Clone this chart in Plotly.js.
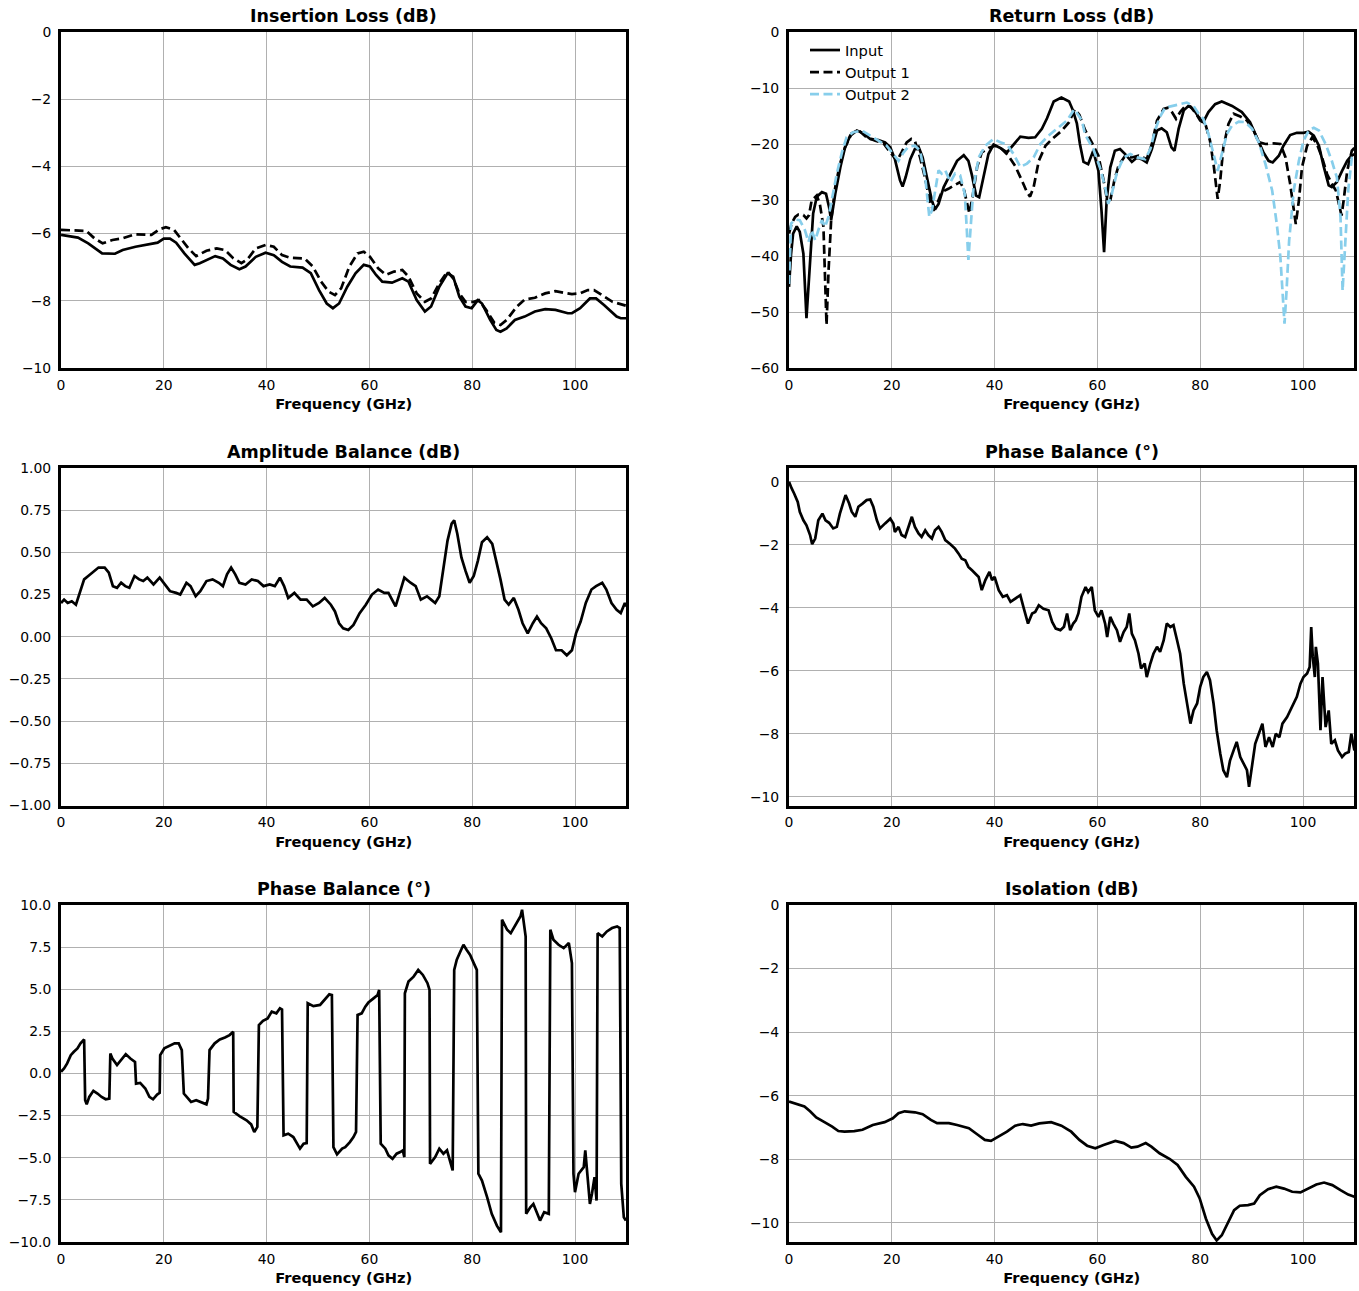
<!DOCTYPE html>
<html><head><meta charset="utf-8">
<script src="https://cdn.plot.ly/plotly-3.0.1.min.js"></script>
<style>html,body{margin:0;padding:0;background:#fff}#chart{width:1359px;height:1291px}</style>
</head><body><div id="chart"></div>
<script>
// ---------------- DATA (frequency GHz, value) ----------------
const freqTicks = [0, 20, 40, 60, 80, 100];
const ilTicks = [0, -2, -4, -6, -8, -10];
const rlTicks = [0, -10, -20, -30, -40, -50, -60];
const abTicks = [1, 0.75, 0.5, 0.25, 0, -0.25, -0.5, -0.75, -1];
const pbTicks = [0, -2, -4, -6, -8, -10];
const pb2Ticks = [10, 7.5, 5, 2.5, 0, -2.5, -5, -7.5, -10];
const isoTicks = [0, -2, -4, -6, -8, -10];

const ilOut1 = [[0,-6.04],[3.3,-6.12],[5.3,-6.29],[8,-6.59],[10.5,-6.6],[12,-6.49],[14.5,-6.39],[17.6,-6.29],[18.8,-6.27],[20,-6.15],[21.2,-6.15],[22.4,-6.27],[24,-6.59],[26,-6.93],[27,-6.88],[30,-6.67],[31.5,-6.74],[33,-6.93],[34.7,-7.06],[35.9,-6.98],[37.9,-6.69],[39.8,-6.57],[41.4,-6.64],[43,-6.84],[44.6,-6.98],[47,-7.01],[48.6,-7.18],[50.2,-7.68],[51.7,-8.08],[52.9,-8.22],[54.1,-8.08],[55.7,-7.58],[57.3,-7.18],[58.9,-6.93],[60.1,-6.98],[61.3,-7.23],[62.5,-7.43],[64.4,-7.46],[66.4,-7.33],[67.6,-7.43],[69.2,-7.98],[70.8,-8.32],[72,-8.17],[73.6,-7.58],[75.2,-7.18],[76.3,-7.28],[77.5,-7.88],[78.7,-8.17],[79.9,-8.22],[81.1,-7.98],[81.9,-8.08],[83.5,-8.57],[84.7,-8.87],[85.5,-8.92],[86.7,-8.82],[88.3,-8.57],[90.2,-8.47],[92.2,-8.32],[94.2,-8.25],[96.2,-8.27],[98.6,-8.37],[99.4,-8.37],[101,-8.22],[102.9,-7.93],[104.1,-7.93],[105.7,-8.13],[108.1,-8.47],[108.9,-8.52],[110,-8.52]];
const ilOut2 = [[0,-5.89],[4.9,-5.92],[6.5,-6.14],[8.1,-6.29],[10,-6.19],[12,-6.14],[14.4,-6.02],[16,-6.04],[17.6,-6.04],[19.2,-5.87],[20.4,-5.81],[22,-5.89],[23.2,-6.14],[24.8,-6.44],[26.3,-6.67],[28.3,-6.51],[30.3,-6.44],[31.9,-6.49],[33.5,-6.73],[35.1,-6.88],[36.3,-6.76],[37.9,-6.44],[39.8,-6.34],[41.4,-6.39],[43,-6.64],[44.6,-6.72],[47.4,-6.74],[49,-6.98],[50.6,-7.43],[52.1,-7.73],[53.3,-7.83],[54.5,-7.63],[56.1,-6.98],[57.7,-6.59],[58.9,-6.54],[60.1,-6.69],[61.7,-7.03],[63.2,-7.23],[64.8,-7.13],[66.4,-7.08],[67.6,-7.28],[69.2,-7.78],[70.8,-8.03],[72,-7.93],[73.6,-7.48],[75.2,-7.13],[76.3,-7.33],[77.5,-7.78],[78.7,-8.03],[80.3,-8.03],[81.3,-7.98],[82.7,-8.27],[84.3,-8.65],[85.5,-8.72],[86.7,-8.57],[88.7,-8.17],[90.2,-7.96],[92.2,-7.91],[94.2,-7.78],[96.2,-7.71],[97.8,-7.76],[99.4,-7.8],[101,-7.78],[102.5,-7.68],[103.7,-7.68],[105.3,-7.83],[107.3,-8.03],[110,-8.15]];

const rlInput = [[0,-45.5],[0.4,-39.6],[0.8,-36],[1.5,-34.7],[2.1,-35.7],[2.8,-39.6],[3.4,-51.1],[4.1,-42],[4.7,-32.4],[5.4,-29.4],[6.4,-28.6],[7.2,-28.9],[7.8,-31.3],[8.2,-33.6],[9,-28.9],[10,-24.1],[10.9,-20.6],[11.9,-18.5],[13.2,-17.6],[14.5,-18.1],[15.8,-19.1],[17.4,-19.3],[18.7,-19.7],[19.7,-20.6],[20.6,-22.7],[21.6,-26.5],[22.1,-27.6],[22.7,-25.9],[23.6,-22.7],[24.5,-20.9],[25.2,-20.5],[26,-22.4],[26.8,-25.9],[27.8,-30.1],[28.4,-31.7],[29.1,-30.7],[30.1,-27.7],[31.4,-25.3],[32.7,-23],[34,-22],[34.9,-23],[35.6,-25.6],[36.4,-29.2],[37,-29.5],[37.9,-25.9],[38.8,-21.8],[39.8,-20.1],[41.1,-20.7],[42.4,-21.5],[43.7,-20],[45,-18.7],[46.6,-18.9],[47.9,-18.8],[49.2,-17.3],[50.2,-15.4],[51.5,-12.4],[53,-11.7],[54.5,-12.4],[55.2,-13.9],[56,-16.3],[56.6,-20],[57.3,-23.2],[58.2,-23.6],[59.2,-21.2],[60.2,-24.8],[60.8,-31.9],[61.3,-39.3],[61.8,-30.1],[62.5,-24.2],[63.4,-21.2],[64.4,-20.9],[65.4,-21.8],[66.7,-23.2],[67.7,-22.4],[68.6,-22.7],[69.6,-23.3],[70.6,-20.9],[71.6,-17.6],[72.5,-17.2],[73.5,-17.9],[74.4,-20.6],[75,-21.2],[75.8,-17.3],[76.8,-14],[77.7,-13.2],[78.7,-13.75],[79.7,-15.2],[80.6,-16.1],[81.6,-14.3],[82.9,-12.9],[84.2,-12.4],[86.2,-13.2],[88.1,-14.3],[89.7,-16.1],[91,-18.8],[92.3,-21.5],[93.3,-23],[94.1,-23.3],[95.3,-22.1],[96.2,-20.3],[97.5,-18.4],[98.8,-18],[100.1,-18],[101.1,-17.8],[102.1,-18.5],[103.1,-20.3],[104,-23.9],[105,-27.4],[105.6,-27.7],[106.6,-26.8],[107.6,-24.8],[108.6,-23],[109.4,-22.1],[110,-21.8]];
const rlOut1 = [[0,-36],[0.5,-34.2],[1.2,-33],[1.8,-32.6],[2.8,-32.7],[3.4,-33.3],[3.9,-32.7],[4.4,-30.1],[5.4,-29.2],[6,-30.7],[6.7,-34.8],[7.1,-45.5],[7.3,-52.3],[7.7,-42.5],[8.2,-33.6],[9,-27.7],[9.9,-23.6],[10.9,-20.6],[12.2,-18.1],[13.5,-17.5],[15.1,-18.8],[16.8,-19.4],[18.4,-19.9],[19.7,-21.5],[21,-23],[21.9,-21.5],[22.9,-19.7],[23.8,-19.1],[24.5,-19.5],[25.5,-22.4],[26.5,-26.2],[27.5,-30.7],[28.1,-31.9],[28.8,-30.7],[29.7,-28.6],[31,-28],[32.3,-27.4],[33.3,-26.8],[34,-28],[34.6,-30.7],[35.1,-32.4],[35.7,-29.5],[36.6,-24.1],[37.5,-21.5],[38.8,-20.7],[40.1,-20.3],[41.4,-20.9],[42.7,-22.1],[44,-23.9],[45.3,-26.5],[46.3,-28.6],[46.9,-29.4],[47.6,-27.7],[48.6,-23],[49.9,-20.3],[51.2,-19.1],[53.1,-17.6],[54.5,-16.1],[55.6,-13.8],[56.5,-14.8],[57.6,-17.5],[58.9,-19.7],[60.2,-22.1],[61.2,-26.5],[61.8,-29.5],[62.5,-30.1],[63.3,-26.5],[64.1,-23.9],[65.4,-22.1],[66.7,-22.4],[68,-22.1],[69.6,-22.7],[70.6,-20],[71.6,-15.8],[72.9,-13.75],[73.8,-13.5],[74.5,-14.3],[75.3,-15.5],[76.1,-14.3],[77.1,-13.2],[78.1,-13.3],[79.2,-14.6],[80,-15.8],[81,-16.4],[81.9,-19.4],[82.6,-23.6],[83.1,-27.7],[83.4,-29.8],[83.9,-26.5],[84.5,-20.6],[85.5,-16.4],[86.5,-14.6],[87.8,-15.1],[89.1,-15.8],[90.4,-17.6],[91.4,-19.7],[92.7,-20],[94.3,-19.9],[95.6,-20],[96.6,-22.4],[97.5,-27.1],[98.2,-31.9],[98.6,-34.3],[99.2,-30.1],[99.8,-24.2],[100.8,-20.3],[101.8,-18.8],[102.7,-20],[103.7,-22.4],[104.7,-25.4],[105.6,-27.1],[106.4,-28.3],[107.1,-31.3],[107.5,-32.8],[107.9,-30.1],[108.6,-24.8],[109.5,-21.2],[110,-20.7]];
const rlOut2 = [[0,-45],[0.4,-34.2],[1.2,-33.5],[2.1,-33.6],[3.1,-35.4],[3.8,-37.5],[4.4,-35.4],[5.1,-37.2],[5.7,-35.4],[6.4,-33.6],[7,-34.8],[7.7,-33],[8.3,-30.1],[9.3,-25.3],[10.3,-21.5],[11.2,-18.8],[12.5,-17.9],[14.2,-17.6],[15.8,-18.5],[17.4,-19.4],[19,-20.3],[20.3,-21.8],[21.3,-23],[22.3,-21.5],[23.2,-20.5],[24.5,-20.3],[25.5,-21.2],[26.5,-25.9],[27.3,-33],[27.8,-31.9],[28.4,-28.3],[29.1,-24.7],[29.7,-25.3],[30.4,-24.7],[31.4,-26.8],[32.3,-25.3],[33.3,-25.6],[34.2,-28.9],[34.6,-35.4],[34.9,-40.7],[35.3,-35.4],[35.9,-27.7],[36.9,-22.4],[38.2,-20.3],[39.8,-19.1],[41.1,-19.7],[42.4,-20.1],[43.7,-21.8],[45,-24.1],[46.3,-23.5],[47.6,-22.4],[48.9,-20],[50.5,-18.5],[52.5,-17],[54.1,-15.8],[55.5,-13.8],[57,-15.8],[57.6,-18.3],[59.2,-20.9],[60.5,-24.2],[61.5,-27.7],[62.1,-30.7],[62.8,-28.9],[63.8,-25.1],[65.1,-22.4],[66.4,-21.8],[67.7,-22.4],[69.3,-22.7],[70.3,-20.9],[71.2,-17.6],[72.2,-15.1],[73.2,-13.5],[74.5,-13.2],[75.8,-12.9],[77.4,-12.6],[78.7,-13.2],[79.7,-14.6],[80.6,-15.5],[81.6,-18.2],[82.6,-21.8],[83.4,-24.8],[84.2,-21.8],[85.2,-18.2],[86.2,-16.7],[87.5,-16],[88.8,-16.1],[90.1,-17.3],[91.4,-19.7],[92.7,-23.6],[94,-28.3],[94.9,-34.3],[95.6,-40.2],[96,-47.4],[96.4,-52.1],[96.8,-46.2],[97.3,-37.3],[98.2,-28.3],[99.2,-23],[100.1,-19.4],[101.1,-17.6],[102.1,-17.1],[103.1,-17.6],[104.4,-20],[105.6,-23],[106.6,-26],[107.3,-33.1],[107.7,-46.2],[108.2,-37.3],[108.8,-28.3],[109.5,-22.4],[110,-21.8]];

const ampBal = [[0,0.2],[0.6,0.22],[1.3,0.2],[2.1,0.21],[2.9,0.19],[3.7,0.26],[4.5,0.34],[5.3,0.36],[6.1,0.38],[7.3,0.41],[8.5,0.41],[9.3,0.38],[10.1,0.3],[10.9,0.29],[11.7,0.32],[12.5,0.3],[13.3,0.29],[14.3,0.36],[15.2,0.34],[16,0.33],[16.8,0.35],[18,0.31],[19.2,0.35],[20.4,0.3],[21.2,0.27],[22.4,0.26],[23.2,0.25],[24.4,0.32],[25.2,0.3],[26.2,0.24],[27.1,0.27],[28.3,0.33],[29.5,0.34],[30.7,0.32],[31.5,0.3],[32.3,0.37],[33.1,0.41],[33.9,0.37],[34.7,0.32],[35.9,0.31],[37.1,0.34],[38.3,0.33],[39.4,0.3],[40.6,0.31],[41.6,0.3],[42.6,0.35],[43.4,0.3],[44.2,0.23],[45.4,0.26],[46.6,0.22],[47.8,0.22],[49,0.18],[50.2,0.2],[51.3,0.23],[52.5,0.19],[53.3,0.15],[54.1,0.08],[54.9,0.05],[55.9,0.04],[56.9,0.07],[58.1,0.14],[59.3,0.19],[60.5,0.25],[61.7,0.28],[62.9,0.26],[63.7,0.26],[64.4,0.22],[65.1,0.18],[65.9,0.26],[66.8,0.35],[68,0.32],[69,0.3],[70,0.22],[71.2,0.24],[72,0.22],[72.8,0.2],[73.6,0.24],[74.4,0.41],[75.2,0.57],[76,0.67],[76.5,0.69],[77.1,0.61],[77.9,0.47],[78.7,0.39],[79.5,0.32],[80.3,0.36],[81.1,0.45],[81.9,0.56],[82.9,0.59],[83.9,0.55],[84.7,0.45],[85.5,0.34],[86.3,0.22],[87.1,0.19],[88.1,0.23],[89,0.16],[89.8,0.08],[90.8,0.02],[91.8,0.08],[92.6,0.12],[93.4,0.08],[94.4,0.05],[95.4,-0.01],[96.3,-0.08],[97.4,-0.08],[98.4,-0.11],[99.4,-0.08],[100.2,0.02],[101.1,0.09],[102.1,0.2],[103.2,0.28],[104.1,0.3],[105.3,0.32],[106.1,0.28],[107.1,0.2],[108.1,0.16],[108.9,0.14],[109.7,0.2],[110,0.18]];

const phaseBalA = [[0,0],[0.2,-0.1],[0.5,-0.2],[1,-0.37],[1.7,-0.64],[2.1,-0.95],[2.8,-1.22],[3.4,-1.38],[4.1,-1.69],[4.5,-1.98],[5.1,-1.8],[5.7,-1.22],[6.5,-1.01],[7.1,-1.22],[7.8,-1.3],[8.6,-1.48],[9.3,-1.43],[9.9,-1.01],[10.6,-0.64],[11,-0.42],[11.7,-0.69],[12.2,-0.95],[12.9,-1.11],[13.5,-0.79],[14.3,-0.69],[15.1,-0.58],[15.8,-0.56],[16.4,-0.79],[17.1,-1.22],[17.7,-1.48],[18.7,-1.32],[19.7,-1.17],[20.3,-1.32],[20.6,-1.59],[21.3,-1.43],[21.9,-1.69],[22.6,-1.75],[23.4,-1.38],[23.9,-1.11],[24.5,-1.43],[25.2,-1.64],[25.8,-1.75],[26.5,-1.54],[27.1,-1.69],[27.8,-1.8],[28.4,-1.54],[29.1,-1.43],[29.7,-1.59],[30.4,-1.85],[31.4,-1.98],[32.3,-2.12],[33,-2.28],[33.6,-2.44],[34.3,-2.49],[34.9,-2.7],[35.6,-2.81],[36.2,-2.91],[36.9,-3.02],[37.5,-3.44],[38.2,-3.12],[39,-2.86],[39.5,-3.12],[40,-3.02],[40.8,-3.44],[41.6,-3.65],[42.4,-3.6],[43.1,-3.81],[44,-3.71],[45,-3.6],[45.6,-3.97],[46.5,-4.5],[47.3,-4.18],[47.9,-4.13],[48.6,-3.92],[49.5,-4.03],[50.5,-4.08],[51.2,-4.45],[51.9,-4.66],[52.8,-4.71],[53.5,-4.6],[54.1,-4.18],[54.7,-4.71],[55.3,-4.5],[55.8,-4.4],[56.3,-4.18],[56.9,-3.65],[57.7,-3.34],[58.2,-3.5],[58.9,-3.34],[59.5,-4.08],[60.2,-4.29],[60.8,-4.08],[61.5,-4.5],[61.9,-4.93],[62.5,-4.29],[63.1,-4.5],[63.8,-4.71],[64.4,-5.08],[65.1,-4.77],[65.7,-4.61],[66.2,-4.18],[66.7,-4.82],[67.3,-5.03],[68,-5.46],[68.5,-5.93],[69.2,-5.77],[69.6,-6.2],[70.3,-5.77],[70.9,-5.46],[71.6,-5.24],[72.2,-5.4],[72.9,-5.03],[73.5,-4.5],[74.2,-4.61],[74.8,-4.55],[75.5,-5.03],[76.1,-5.46],[76.8,-6.41],[77.4,-7.04],[78.1,-7.68],[78.7,-7.26],[79.4,-7.04],[80,-6.51],[80.6,-6.2],[81.3,-6.04],[81.9,-6.3],[82.6,-7.04],[83.2,-7.89],[83.9,-8.63],[84.5,-9.16],[85.2,-9.38],[85.8,-8.85],[86.5,-8.53],[87.1,-8.26],[87.8,-8.74],[88.4,-8.95],[89.1,-9.16],[89.5,-9.69],[90.1,-8.95],[90.7,-8.32],[91.4,-8],[92.1,-7.68],[92.7,-8.42],[93.4,-8.11],[94.1,-8.42],[94.7,-8],[95.4,-8.11],[96,-7.68],[96.9,-7.47],[97.5,-7.26],[98.2,-7.04],[98.8,-6.83],[99.5,-6.41],[100.1,-6.2],[100.8,-6.09],[101.3,-5.88],[101.6,-4.61],[101.9,-5.56],[102.3,-6.2],[102.5,-5.24],[102.9,-5.77],[103.4,-7.89],[103.8,-6.2],[104.4,-7.79],[105,-7.26],[105.5,-8.32],[106.2,-8.21],[106.8,-8.53],[107.6,-8.74],[108.2,-8.63],[108.9,-8.58],[109.4,-8],[110,-8.53]];

const phaseBalB = [[0,0.1],[0.6,0.3],[1.2,0.6],[1.9,1.09],[2.5,1.29],[3.2,1.49],[3.8,1.79],[4.5,2.02],[4.7,-1.59],[5,-1.83],[5.5,-1.39],[6.3,-1.03],[7.1,-1.19],[7.9,-1.39],[8.7,-1.53],[9.4,-1.49],[9.6,1.19],[10,0.89],[10.9,0.5],[11.7,0.79],[12.6,1.15],[13.5,0.89],[14.4,0.69],[14.6,-0.6],[15.4,-0.56],[16.4,-0.89],[17.2,-1.39],[17.9,-1.53],[18.7,-1.25],[19.2,-1.15],[19.3,1.09],[20.1,1.49],[21.1,1.63],[22.1,1.79],[22.9,1.79],[23.5,1.39],[23.9,-1.19],[24.7,-1.49],[25.3,-1.69],[26.3,-1.59],[27.3,-1.69],[28.3,-1.83],[28.6,-1.49],[28.9,1.39],[29.9,1.79],[30.9,2.02],[31.9,2.14],[32.8,2.28],[33.5,2.48],[33.6,-2.28],[34.8,-2.54],[36.1,-2.78],[37,-3.02],[37.6,-3.47],[38.2,-3.17],[38.5,2.88],[39.3,3.13],[40.2,3.27],[41,3.67],[41.9,3.57],[42.6,3.87],[43,3.8],[43.3,-3.67],[44.2,-3.57],[45.2,-3.77],[45.9,-4.17],[46.5,-4.46],[47.2,-4.17],[47.8,-4.13],[48,4.17],[49.1,4],[50.4,4.07],[51.4,4.46],[52.2,4.7],[52.7,4.66],[53,-4.37],[53.7,-4.8],[54.7,-4.46],[55.3,-4.37],[56.2,-4.07],[56.9,-3.77],[57.4,-3.47],[57.7,3.47],[58.5,3.57],[59.2,3.97],[59.8,4.21],[60.8,4.46],[61.6,4.66],[61.9,4.96],[62.2,-4.17],[63.1,-4.46],[63.7,-4.86],[64.5,-5.06],[65.3,-4.76],[66,-4.66],[66.5,-4.56],[66.8,-4.96],[66.9,4.76],[67.6,5.46],[68.6,5.75],[69.5,6.15],[70.4,5.85],[71.3,5.36],[71.7,4.96],[71.8,-5.36],[72.8,-4.96],[73.6,-4.46],[74.4,-4.76],[75.1,-4.56],[75.7,-5.16],[76.2,-5.75],[76.5,6.15],[77,6.75],[77.7,7.24],[78.3,7.64],[78.9,7.34],[79.6,7.04],[80.3,6.55],[80.9,6.15],[81.2,-5.95],[81.9,-6.35],[82.9,-7.34],[83.8,-8.33],[84.8,-9.03],[85.6,-9.42],[85.8,9.13],[86.8,8.53],[87.5,8.33],[88.4,8.83],[89.4,9.33],[89.7,9.72],[90.1,8.73],[90.4,8.13],[90.5,-8.33],[91.3,-7.94],[91.9,-7.74],[92.6,-8.23],[93.2,-8.73],[94,-8.23],[94.9,-8.33],[95.2,8.53],[95.8,7.94],[96.8,7.64],[97.8,7.44],[98.8,7.74],[99.4,6.55],[99.7,-5.95],[100,-7.04],[100.7,-5.95],[101.7,-5.56],[102,-4.56],[102.5,-6.15],[102.9,-7.74],[103.3,-7.14],[103.8,-6.15],[104.2,-7.54],[104.4,8.33],[105.3,8.13],[106.2,8.43],[107.2,8.63],[108.2,8.73],[108.7,8.63],[109,-6.55],[109.5,-8.53],[109.9,-8.73]];

const isolation = [[0,-6.18],[1.4,-6.26],[3,-6.34],[4.1,-6.49],[5.3,-6.68],[6.9,-6.83],[8.4,-6.97],[9.6,-7.11],[10.8,-7.13],[12.7,-7.11],[14.3,-7.07],[16.3,-6.92],[18.6,-6.83],[20.2,-6.71],[21.3,-6.55],[22.5,-6.49],[24.5,-6.52],[26,-6.58],[27.6,-6.76],[28.8,-6.86],[31.1,-6.86],[32.7,-6.92],[35,-7.02],[36.6,-7.21],[38.1,-7.39],[39.3,-7.42],[40.9,-7.28],[42.4,-7.13],[44,-6.94],[45.5,-6.89],[47.1,-6.94],[48.7,-6.87],[51,-6.83],[53,-6.94],[54.9,-7.13],[56.5,-7.39],[58,-7.57],[59.6,-7.65],[61.2,-7.55],[63.5,-7.42],[65.1,-7.49],[66.6,-7.63],[67.8,-7.6],[69.4,-7.49],[70.5,-7.6],[72.1,-7.81],[74.1,-7.99],[75.6,-8.18],[77.2,-8.55],[78.8,-8.86],[79.9,-9.23],[81.1,-9.86],[82.3,-10.34],[83.2,-10.55],[84.2,-10.39],[85.4,-9.97],[86.6,-9.6],[87.7,-9.46],[89.3,-9.44],[90.5,-9.39],[91.6,-9.13],[93.2,-8.94],[94.8,-8.86],[96.3,-8.92],[97.9,-9.02],[99.5,-9.04],[101,-8.92],[102.6,-8.79],[104.1,-8.73],[105.7,-8.81],[107.3,-8.97],[108.8,-9.11],[110,-9.18]];

// ---------------- LAYOUT HELPERS ----------------
const W = 1359, H = 1291;
const FONT = 'DejaVu Sans, Verdana, sans-serif';
const GRID = '#b0b0b0';
const SKY = '#87CEEB';
const colX = [[61, 626.4], [789, 1354.4]];
const rowY = [[32, 368], [468, 805.5], [905, 1242]];
const xdom = c => [colX[c][0] / W, colX[c][1] / W];
const ydom = r => [1 - rowY[r][1] / H, 1 - rowY[r][0] / H];
const X = p => p.map(d => d[0]);
const Y = p => p.map(d => d[1]);
const TICKSIZE = 13.9;

function xAxis(c, anchor) {
  return {
    domain: xdom(c), anchor: anchor, range: [0, 110], tickvals: freqTicks,
    showgrid: true, gridcolor: GRID, gridwidth: 1, zeroline: false,
    showline: true, linecolor: '#000', linewidth: 3, mirror: true,
    ticks: '', ticklabelstandoff: 2,
    tickfont: {family: FONT, size: TICKSIZE, color: '#000'},
    title: {text: '<b>Frequency (GHz)</b>', font: {family: FONT, size: 14.67, color: '#000'}, standoff: 8},
    fixedrange: true
  };
}
function yAxis(r, anchor, range, ticks, fmt) {
  const a = {
    domain: ydom(r), anchor: anchor, range: range, tickvals: ticks,
    showgrid: true, gridcolor: GRID, gridwidth: 1, zeroline: false,
    showline: true, linecolor: '#000', linewidth: 3, mirror: true,
    ticks: '', ticklabelstandoff: 4,
    tickfont: {family: FONT, size: TICKSIZE, color: '#000'},
    fixedrange: true
  };
  if (fmt) a.tickformat = fmt;
  return a;
}
function line(p, xa, ya, color, dash, name, legend) {
  return {
    x: X(p), y: Y(p), xaxis: xa, yaxis: ya, type: 'scatter', mode: 'lines', name: name,
    showlegend: !!legend, hoverinfo: 'skip',
    line: {color: color, width: 2.7, dash: dash || 'solid'}
  };
}
const DASH = '9px,4.5px';

const traces = [
  line(ilOut1, 'x', 'y', '#000', 'solid', 'Output 1', false),
  line(ilOut2, 'x', 'y', '#000', DASH, 'Output 2', false),
  line(rlInput, 'x2', 'y2', '#000', 'solid', 'Input', true),
  line(rlOut1, 'x2', 'y2', '#000', DASH, 'Output 1', true),
  line(rlOut2, 'x2', 'y2', SKY, DASH, 'Output 2', true),
  line(ampBal, 'x3', 'y3', '#000', 'solid', 'Amplitude Balance', false),
  line(phaseBalA, 'x4', 'y4', '#000', 'solid', 'Phase Balance', false),
  line(phaseBalB, 'x5', 'y5', '#000', 'solid', 'Phase Balance', false),
  line(isolation, 'x6', 'y6', '#000', 'solid', 'Isolation', false)
];

const titles = ['Insertion Loss (dB)', 'Return Loss (dB)', 'Amplitude Balance (dB)', 'Phase Balance (°)', 'Phase Balance (°)', 'Isolation (dB)'];
const annotations = titles.map((t, i) => {
  const c = i % 2, r = Math.floor(i / 2);
  return {
    text: '<b>' + t + '</b>', xref: 'paper', yref: 'paper',
    x: (xdom(c)[0] + xdom(c)[1]) / 2, y: ydom(r)[1], xanchor: 'center', yanchor: 'middle',
    yshift: 16, showarrow: false, font: {family: FONT, size: 17.5, color: '#000'}
  };
});

const layout = {
  width: W, height: H, margin: {l: 0, r: 0, t: 0, b: 0},
  paper_bgcolor: '#fff', plot_bgcolor: '#fff',
  font: {family: FONT, color: '#000'},
  showlegend: true,
  legend: {x: 805 / W, y: 1 - 34 / H, xanchor: 'left', yanchor: 'top', bgcolor: 'rgba(0,0,0,0)',
           borderwidth: 0, font: {family: FONT, size: 14.67, color: '#000'}, itemwidth: 30, traceorder: 'normal'},
  xaxis: xAxis(0, 'y'), yaxis: yAxis(0, 'x', [-10, 0], ilTicks),
  xaxis2: xAxis(1, 'y2'), yaxis2: yAxis(0, 'x2', [-60, 0], rlTicks),
  xaxis3: xAxis(0, 'y3'), yaxis3: yAxis(1, 'x3', [-1, 1], abTicks, '.2f'),
  xaxis4: xAxis(1, 'y4'), yaxis4: yAxis(1, 'x4', [-10.28, 0.44], pbTicks),
  xaxis5: xAxis(0, 'y5'), yaxis5: yAxis(2, 'x5', [-10, 10], pb2Ticks, '.1f'),
  xaxis6: xAxis(1, 'y6'), yaxis6: yAxis(2, 'x6', [-10.6, 0], isoTicks),
  annotations: annotations
};

Plotly.newPlot('chart', traces, layout, {staticPlot: true, displayModeBar: false});
</script></body></html>
